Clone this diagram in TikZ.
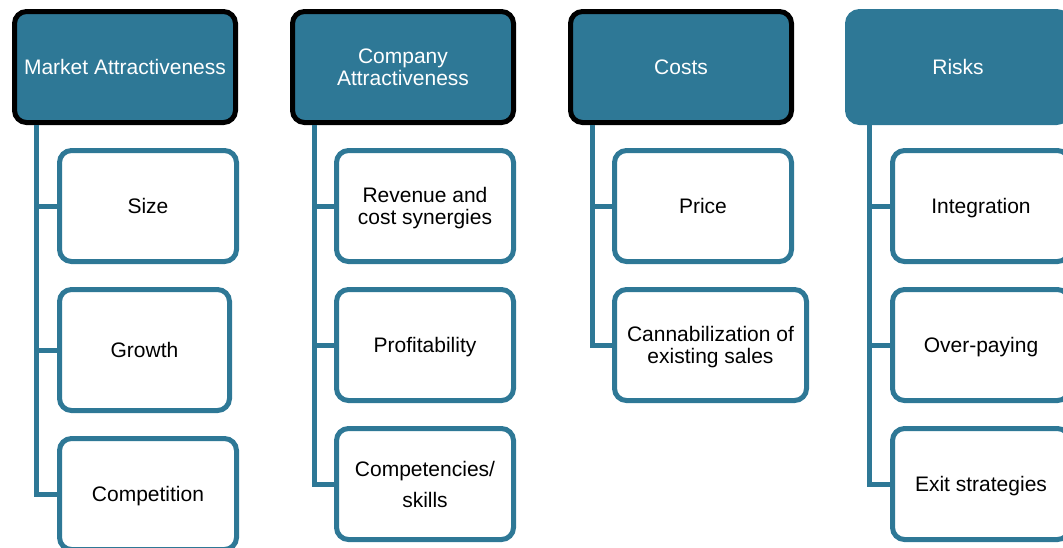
\documentclass[tikz,border=0pt]{standalone}
\usepackage{fontspec}
\setmainfont{Liberation Sans}
\definecolor{seablue}{RGB}{46,120,150}
\tikzset{
  head/.style={rectangle, rounded corners=12, fill=seablue, draw=black, line width=5,
    minimum width=221, minimum height=111, inner sep=2, text depth=0, text=white,
    align=center, font=\fontsize{21}{22}\selectfont},
  item/.style={rectangle, rounded corners=12, fill=white, draw=seablue, line width=5,
    minimum width=177, minimum height=111, inner sep=2, text depth=0, align=center,
    font=\fontsize{21}{22}\selectfont},
  link/.style={draw=seablue, line width=5}
}
\begin{document}
\begin{tikzpicture}[x=1pt, y=-1pt]
      \useasboundingbox (0,0) rectangle (1063,547);
      \node[head] (mkt) at (125,67) {Market Attractiveness};
      \node[head] (comp) at (403,67) {Company\\Attractiveness};
      \node[head] (cost) at (681,67) {Costs};
      \node[head, draw=seablue] (risk) at (958,67) {Risks};
      \node[item] (size) at (148,206) {Size};
      \node[item, minimum width=170, minimum height=121] (growth) at (144.5,350) {Growth};
      \node[item] (competition) at (148,494) {Competition};
      \node[item] (synergy) at (425,206) {Revenue and\\cost synergies};
      \node[item] (profit) at (425,345) {Profitability};
      \node[item] (skill) at (425,484) {Competencies/\\[9pt]skills};
      \node[item] (price) at (703,206) {Price};
      \node[item, minimum width=192] (cannibal) at (710.5,345) {Cannabilization of\\existing sales};
      \node[item] (integ) at (981,206) {Integration};
      \node[item] (overpay) at (981,345) {Over-paying};
      \node[item] (exit) at (981,484) {Exit strategies};
      \begin{scope}[link]
        \draw ([xshift=24.5]mkt.south west) |- (size.west);
        \draw ([xshift=24.5]mkt.south west) |- (growth.west);
        \draw ([xshift=24.5]mkt.south west) |- (competition.west);
        \draw ([xshift=24.5]comp.south west) |- (synergy.west);
        \draw ([xshift=24.5]comp.south west) |- (profit.west);
        \draw ([xshift=24.5]comp.south west) |- (skill.west);
        \draw ([xshift=24.5]cost.south west) |- (price.west);
        \draw ([xshift=24.5]cost.south west) |- (cannibal.west);
        \draw ([xshift=24.5]risk.south west) |- (integ.west);
        \draw ([xshift=24.5]risk.south west) |- (overpay.west);
        \draw ([xshift=24.5]risk.south west) |- (exit.west);
      \end{scope}
    \end{tikzpicture}
\end{document}
